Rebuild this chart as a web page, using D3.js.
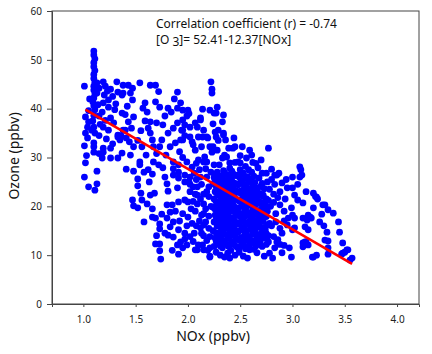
<!DOCTYPE html>
<html>
<head>
<meta charset="utf-8">
<script src="https://cdn.jsdelivr.net/npm/d3@7"></script>
<style>
  body { margin: 0; background: #fff; }
  svg { display: block; font-family: "Noto Sans", "Open Sans", sans-serif; }
</style>
</head>
<body>
<svg id="chart" width="432" height="354"></svg>
<script>
// NOx (ppbv) vs ozone (ppbv)
const lowNox = [
  [1.10,51.8],[1.10,51.0],[1.11,50.2],[1.10,49.4],[1.10,48.6],[1.11,47.8],[1.10,47.0],[1.10,46.2],[1.11,45.4],[1.10,44.6],
  [1.10,43.8],[1.11,43.0],[1.10,42.2],[1.09,41.4],[1.10,40.6],[1.11,39.8],[1.10,38.6],[1.09,37.5],[1.10,36.2],[1.11,35.0],
  [1.01,44.6],[1.06,42.0],[1.05,39.6],[1.02,38.3],[1.05,37.3],[1.04,36.2],[1.08,35.6],[1.02,35.0],[1.04,34.0],[1.01,32.4],
  [1.10,32.2],[1.10,31.1],[1.03,30.4],[1.02,28.9],[1.01,26.0],[1.05,24.0],[1.13,27.2],[1.13,24.6],[1.11,23.3],[1.15,30.8],
  [1.18,29.9],[1.19,31.1],[1.19,31.9],[1.26,31.9],[1.26,29.9],[1.33,29.9],[1.37,30.9],[1.45,30.5],[1.41,27.6],[1.48,27.2],
  [1.10,33.0],[1.13,45.3],[1.13,43.2],[1.15,44.2],[1.19,45.5],[1.21,44.6],[1.23,43.6],[1.20,42.8],[1.26,44.0],[1.28,42.5],
  [1.24,41.8],[1.32,45.5],[1.33,43.4],[1.38,44.8],[1.38,43.2],[1.43,44.8],[1.47,44.2],[1.45,43.2],[1.37,42.8],[1.47,41.8],
  [1.18,39.3],[1.19,41.2],[1.24,40.3],[1.26,38.1],[1.21,37.6],[1.19,36.2],[1.24,35.6],[1.29,37.1],[1.33,34.2],[1.36,34.4],
  [1.38,35.6],[1.37,39.1],[1.40,38.8],[1.43,37.3],[1.48,38.3],[1.35,33.6],[1.41,34.0],[1.44,33.2],[1.33,34.6],[1.40,35.6],
  [1.15,38.5],[1.14,40.8],[1.16,36.8],[1.30,39.8],[1.22,33.8],[1.15,34.5],[1.28,32.8],[1.48,32.2],[1.46,36.0],[1.31,41.0],
  [1.42,40.5]
];

const midNox = [
  [1.54,45.3],[1.64,44.8],[1.69,44.8],[1.90,43.4],[1.59,41.2],[1.57,40.1],[1.61,39.3],[1.59,37.5],[1.64,37.3],[1.62,36.0],
  [1.64,35.0],[1.66,33.6],[1.67,32.2],[1.69,41.4],[1.73,40.3],[1.70,37.1],[1.76,36.7],[1.81,40.1],[1.84,39.3],[1.90,40.1],
  [1.93,41.2],[1.95,39.7],[1.90,37.1],[1.86,36.0],[1.81,35.0],[1.94,35.6],[1.97,36.7],[1.93,33.6],[1.83,32.2],[1.75,33.6],
  [1.73,32.2],[1.56,32.2],[1.52,33.5],[1.55,35.5],[1.78,38.5],[1.87,42.0],[1.72,43.5],[1.99,38.5],[1.97,34.5],[1.88,33.0],
  [1.60,30.5],[1.70,30.8],[1.79,30.5],[1.92,31.2],
  [1.54,28.5],[1.54,29.1],[1.52,25.6],[1.52,24.2],[1.66,26.6],[1.67,29.1],[1.55,22.7],[1.64,22.3],[1.68,22.7],[1.47,21.3],
  [1.48,20.1],[1.56,21.3],[1.52,19.7],[1.61,20.5],[1.66,19.5],[1.66,17.8],[1.69,17.6],[1.58,16.8],[1.73,16.4],[1.73,15.4],
  [1.75,18.4],[1.80,17.6],[1.83,18.8],[1.80,20.3],[1.85,20.3],[1.91,20.9],[1.97,21.3],[1.86,16.8],[1.83,15.8],[1.78,14.5],
  [1.81,14.1],[1.86,13.7],[1.91,15.2],[1.97,14.5],[1.97,13.3],[1.93,12.7],[1.90,12.1],[1.73,12.3],[1.73,10.9],[1.74,9.2],
  [1.69,12.3],[1.91,10.2],[1.76,27.9],[1.78,26.0],[1.80,24.6],[1.81,23.1],[1.90,23.8],[1.86,29.1],[1.86,27.7],[1.86,26.4],
  [1.91,28.5],[1.91,27.0],[1.91,25.8],[1.97,26.4],[1.97,25.0],[1.72,28.5],[1.62,27.5],[1.95,18.5],[1.92,17.0],[1.88,19.0],
  [1.99,16.0],[1.95,11.5],[1.85,11.0],[1.70,14.0],[1.63,25.0],[1.58,27.0],[1.99,29.1],[1.95,30.0]
];

const upperNox = [
  [2.00,20.9],[2.00,17.8],[2.02,26.0],[2.02,24.5],[2.02,23.0],[2.09,24.0],[2.09,22.3],[2.09,20.5],[2.15,22.5],[2.15,20.5],
  [2.15,18.5],[2.15,16.2],[2.15,14.0],[2.18,29.1],[2.17,27.7],[2.13,18.2],[2.12,15.6],[2.09,11.1],[2.14,12.1],[2.15,11.1],
  [2.21,9.6],[2.21,11.5],[2.10,12.1],[2.07,11.1],[2.21,9.8],[1.99,12.1],
  [2.22,45.5],[2.23,43.2],[2.23,44.0],[2.14,39.9],[2.00,39.7],[2.01,39.0],[2.25,39.1],[2.34,38.7],[2.33,37.3],[2.24,36.9],
  [2.12,38.1],[2.07,37.1],[2.09,36.2],[2.26,35.2],[2.27,34.2],[2.34,34.6],[2.36,33.6],[2.44,34.0],[2.14,34.2],[2.19,34.0],
  [1.95,37.7],[1.95,35.6],[1.95,33.6],[2.04,33.2],[2.07,31.5],[2.21,32.2],[2.23,31.1],[2.28,31.5],[2.43,31.9],[2.52,32.2],
  [2.59,31.5],[2.77,31.9],[2.37,30.1],[2.33,29.9],[2.16,30.1],[2.15,29.1],[2.40,28.9],[2.48,29.1],[2.50,28.9],[2.56,29.9],
  [2.61,30.5],[2.62,29.0],[2.67,27.9],[2.71,26.8],[2.75,26.8],[2.83,26.4],[3.07,28.1],[3.08,27.5],[2.02,36.2],[2.12,37.7],
  [2.15,35.6],[2.18,34.2],[2.10,34.2],[2.02,34.2],[2.05,32.6],[2.13,32.2],[2.24,32.2],[2.28,40.3],[2.21,39.7],[2.27,39.1],
  [2.29,35.6],[2.29,33.5],[2.39,31.9],[2.45,32.2],[2.34,35.0],[2.40,27.8],[2.30,28.5],
  [2.04,28.0],[2.06,26.8],[2.08,25.5],[2.11,27.5],[2.12,26.0],[2.13,24.5],[2.18,26.0],[2.20,24.0],[2.20,22.0],[2.05,21.0],
  [2.07,19.0],[2.11,17.0],[2.04,16.5],[2.06,14.5],[2.02,13.8],[2.18,13.0],[2.20,15.5],[2.20,18.0],[2.22,20.0],[2.22,27.0],
  [2.25,28.5],[2.26,26.5],[2.05,24.0],[2.10,29.5],
  [2.03,19.5],[2.07,22.5],[2.12,21.5],[2.17,19.5],[2.18,23.0],[2.13,14.5],[2.08,16.0],[2.17,16.8],[2.21,13.8],[2.19,11.0],
  [2.05,12.8],[2.01,25.0],[2.08,28.8]
];

const coreNox = [
  [2.25,11.8],[2.26,13.5],[2.24,15.0],[2.25,16.8],[2.26,18.2],[2.24,19.8],[2.25,21.5],[2.26,23.0],[2.24,24.6],[2.25,25.9],
  [2.29,12.5],[2.30,14.2],[2.28,16.0],[2.29,17.5],[2.30,19.1],[2.28,20.6],[2.29,22.3],[2.30,23.8],[2.29,25.4],[2.28,27.0],
  [2.33,11.5],[2.34,13.0],[2.32,14.8],[2.33,16.4],[2.34,18.0],[2.32,19.5],[2.33,21.0],[2.34,22.7],[2.33,24.2],[2.32,25.8],[2.34,27.3],
  [2.37,12.2],[2.38,13.9],[2.36,15.5],[2.37,17.2],[2.38,18.8],[2.36,20.3],[2.37,21.8],[2.38,23.4],[2.36,25.0],[2.37,26.5],
  [2.41,11.0],[2.42,12.8],[2.40,14.5],[2.41,16.0],[2.42,17.7],[2.40,19.3],[2.41,20.9],[2.42,22.5],[2.40,24.0],[2.41,25.6],[2.42,27.2],
  [2.45,12.0],[2.46,13.6],[2.44,15.2],[2.45,16.9],[2.46,18.5],[2.44,20.0],[2.45,21.6],[2.46,23.2],[2.44,24.8],[2.45,26.3],
  [2.49,11.4],[2.50,13.0],[2.48,14.7],[2.49,16.3],[2.50,17.9],[2.48,19.5],[2.49,21.1],[2.50,22.8],[2.48,24.4],[2.49,26.0],[2.50,27.5],
  [2.53,12.3],[2.54,14.0],[2.52,15.6],[2.53,17.3],[2.54,18.9],[2.52,20.5],[2.53,22.0],[2.54,23.6],[2.52,25.2],[2.53,26.8],
  [2.57,11.7],[2.58,13.3],[2.56,15.0],[2.57,16.6],[2.58,18.2],[2.56,19.8],[2.57,21.4],[2.58,23.0],[2.56,24.5],[2.57,26.1],
  [2.61,12.6],[2.62,14.3],[2.60,16.0],[2.61,17.6],[2.62,19.2],[2.60,20.8],[2.61,22.4],[2.62,24.0],[2.60,25.5],[2.61,27.0],
  [2.65,11.9],[2.66,13.6],[2.64,15.3],[2.65,16.9],[2.66,18.5],[2.64,20.1],[2.65,21.7],[2.66,23.3],[2.64,24.9],
  [2.69,12.8],[2.70,14.5],[2.68,16.2],[2.69,17.8],[2.70,19.4],[2.68,21.0],[2.69,22.6],[2.70,24.2],[2.68,25.8],
  [2.73,13.5],[2.74,15.2],[2.72,17.0],[2.73,18.7],[2.74,20.3],[2.72,22.0],[2.73,23.6],
  [2.77,14.0],[2.78,16.5],[2.76,19.0],[2.77,21.2],[2.78,23.5],[2.76,25.0],
  [2.27,10.6],[2.38,10.4],[2.40,9.4],[2.49,10.6],[2.57,9.4],[2.59,11.1],[2.73,9.8],[2.78,10.4],[2.81,9.4],[2.77,12.7],
  [2.85,12.7],[2.88,12.2],[2.31,10.0],[2.45,10.0],[2.66,10.5],[2.53,9.8],[2.35,9.6],
  [2.50,30.4],[2.55,28.2],[2.65,28.8],[2.70,29.5],[2.58,27.5],[2.80,27.6],[2.85,26.4],[2.45,29.0],[2.35,30.5]
];

const coreFill = [
  [2.27,12.9],[2.27,14.6],[2.28,16.1],[2.27,17.8],[2.26,19.4],[2.27,21.0],[2.28,22.6],[2.27,24.0],[2.26,25.2],
  [2.31,11.9],[2.31,13.6],[2.32,15.4],[2.31,17.0],[2.30,18.6],[2.31,20.1],[2.32,21.6],[2.31,23.1],[2.30,24.8],[2.31,26.2],
  [2.35,12.7],[2.35,14.3],[2.36,15.9],[2.35,17.6],[2.34,19.1],[2.35,20.8],[2.36,22.2],[2.35,23.8],[2.34,25.4],[2.35,26.9],
  [2.39,11.8],[2.39,13.4],[2.40,15.0],[2.39,16.6],[2.38,18.3],[2.39,19.9],[2.40,21.4],[2.39,23.0],[2.38,24.5],[2.39,26.0],
  [2.43,12.5],[2.43,14.1],[2.44,15.7],[2.43,17.4],[2.42,19.0],[2.43,20.5],[2.44,22.1],[2.43,23.7],[2.42,25.2],[2.43,26.7],
  [2.47,11.6],[2.47,13.2],[2.48,14.9],[2.47,16.5],[2.46,18.1],[2.47,19.7],[2.48,21.3],[2.47,22.9],[2.46,24.6],[2.47,26.4],
  [2.51,12.0],[2.51,13.6],[2.52,15.2],[2.51,16.9],[2.50,18.4],[2.51,20.0],[2.52,21.6],[2.51,23.2],[2.50,24.8],[2.51,26.5],
  [2.55,11.3],[2.55,13.0],[2.56,14.6],[2.55,16.2],[2.54,17.9],[2.55,19.4],[2.56,21.0],[2.55,22.6],[2.54,24.2],[2.55,25.8],
  [2.59,12.1],[2.59,13.8],[2.60,15.4],[2.59,17.0],[2.58,18.7],[2.59,20.3],[2.60,21.9],[2.59,23.5],[2.58,25.0],
  [2.63,11.2],[2.63,12.9],[2.64,14.7],[2.63,16.4],[2.62,18.0],[2.63,19.6],[2.64,21.2],[2.63,22.8],[2.62,24.4],[2.63,26.2],
  [2.67,12.3],[2.67,14.0],[2.68,15.7],[2.67,17.3],[2.66,19.0],[2.67,20.6],[2.68,22.2],[2.67,23.8],
  [2.71,11.8],[2.71,13.9],[2.72,15.7],[2.71,17.4],[2.70,19.1],[2.71,20.7],[2.72,22.3],[2.71,24.7],
  [2.75,12.2],[2.75,14.4],[2.76,16.2],[2.75,17.9],[2.74,19.6],[2.75,21.5],
  [2.82,20.8],[2.86,21.8],[2.84,16.8],[2.88,15.5],[2.92,17.0],[2.86,13.2],[2.90,10.5],[2.83,11.5],[2.94,25.5],[2.80,25.5]
];

const highNox = [
  [2.90,24.8],[2.95,23.8],[3.00,23.8],[3.07,26.0],[3.09,26.4],[3.02,22.3],[3.05,21.3],[3.10,20.7],[2.93,21.5],[2.88,20.3],
  [2.99,19.7],[3.00,18.2],[2.96,17.6],[2.95,16.2],[3.02,15.6],[3.10,17.6],[3.12,15.8],[3.15,18.2],[3.18,17.6],[2.82,22.5],
  [2.84,18.5],[2.80,16.0],[2.90,14.5],[2.83,24.5],[2.87,26.8],[2.79,20.0],[2.92,19.0],[3.00,26.0],[3.05,24.5],[2.97,11.5],
  [3.10,11.7],[3.12,12.7],[3.15,12.1],[3.00,15.2],[3.02,17.6],[2.99,9.6],[2.92,12.0],[2.82,13.8],[2.88,23.0],[3.13,23.0],
  [3.20,22.7],[3.23,21.9],[3.20,19.7],[3.31,20.3],[3.34,19.3],[3.39,18.6],[3.28,18.4],[3.26,16.8],[3.30,16.0],[3.33,14.7],
  [3.34,12.9],[3.44,16.8],[3.45,14.7],[3.48,12.5],[3.50,10.6],[3.47,10.2],[3.53,11.1],[3.55,9.0],[3.23,10.0],[3.34,10.2],
  [3.10,12.5],[3.13,12.7],[3.19,9.6],[3.22,22.0],[3.24,21.5],[3.29,20.3],[3.17,17.8],[3.14,17.2],[3.15,15.2],[3.31,13.1],
  [3.34,11.5],[3.48,10.4],[3.52,11.1],[3.57,9.4],[3.20,9.6]
];

// fitted line [O3] = 52.41 - 12.37[NOx], endpoints as drawn
const fitNox = [1.02, 3.57];
const fitO3 = [39.8, 8.2];

const xTicks = [1.0, 1.5, 2.0, 2.5, 3.0, 3.5, 4.0];
const yTicks = [0, 10, 20, 30, 40, 50, 60];

const points = [].concat(lowNox, midNox, upperNox, coreNox, coreFill, highNox);

const svg = d3.select("#chart");
const margin = {top: 11, right: 13, bottom: 50, left: 52};
const W = 432, H = 354;

const x = d3.scaleLinear().domain([0.7, 4.21]).range([margin.left, W - margin.right]);
const y = d3.scaleLinear().domain([0, 60]).range([H - margin.bottom, margin.top]);

// frame
svg.append("rect")
    .attr("x", margin.left)
    .attr("y", margin.top)
    .attr("width", W - margin.right - margin.left)
    .attr("height", H - margin.bottom - margin.top)
    .style("fill", "none")
    .style("stroke", "#444")
    .style("stroke-width", 1);

// axes
const xAxis = svg.append("g")
    .attr("transform", `translate(0, ${H - margin.bottom})`)
    .call(d3.axisBottom(x).tickValues(xTicks).tickFormat(d3.format(".1f")).tickSize(3).tickPadding(9));
const yAxis = svg.append("g")
    .attr("transform", `translate(${margin.left}, 0)`)
    .call(d3.axisLeft(y).tickValues(yTicks).tickSize(5).tickPadding(5));

[xAxis, yAxis].forEach(g => {
    g.select(".domain").style("stroke", "#444");
    g.selectAll(".tick line").style("stroke", "#444");
    g.selectAll(".tick text")
        .style("font-family", "'Noto Sans', sans-serif")
        .style("font-size", "10px")
        .style("fill", "#222");
});

// scatter
svg.append("g").selectAll("circle")
    .data(points)
    .join("circle")
    .attr("cx", d => x(d[0]))
    .attr("cy", d => y(d[1]))
    .attr("r", 3.4)
    .style("fill", "#0000ff");

// regression line
svg.append("line")
    .attr("x1", x(fitNox[0]))
    .attr("y1", y(fitO3[0]))
    .attr("x2", x(fitNox[1]))
    .attr("y2", y(fitO3[1]))
    .style("stroke", "#ff0000")
    .style("stroke-width", 2.5);

// titles
svg.append("text")
    .attr("x", 213)
    .attr("y", 341)
    .attr("text-anchor", "middle")
    .style("font-size", "14px")
    .style("fill", "#111")
    .text("NOx (ppbv)");

svg.append("text")
    .attr("transform", `translate(19, 156) rotate(-90)`)
    .attr("text-anchor", "middle")
    .style("font-size", "14px")
    .style("fill", "#111")
    .text("Ozone (ppbv)");

// annotation
const note = svg.append("g").style("font-size", "12px").style("fill", "#111");
note.append("text").attr("x", 156).attr("y", 28).text("Correlation coefficient (r) = -0.74");
const eq = note.append("text").attr("x", 156).attr("y", 44);
eq.append("tspan").text("[O ");
eq.append("tspan").attr("dy", 2).text("3");
eq.append("tspan").attr("dy", -2).text("]= 52.41-12.37[NOx]");
</script>
</body>
</html>
